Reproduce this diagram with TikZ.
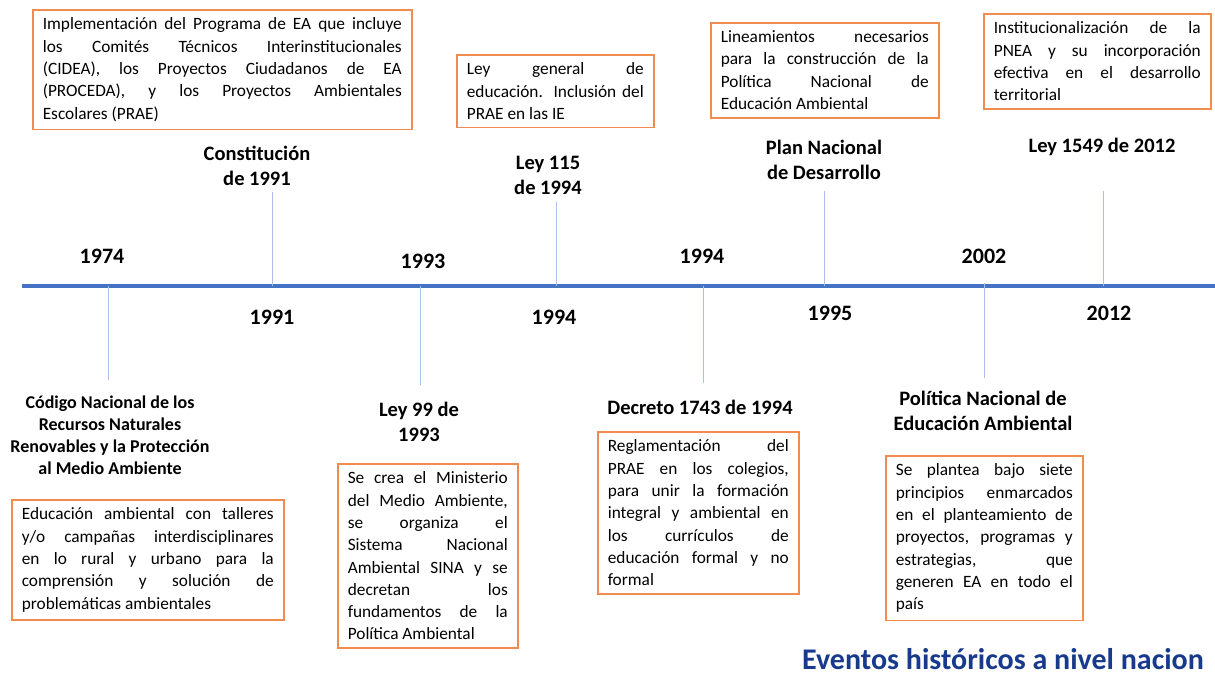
\documentclass[tikz,border=0pt]{standalone}
\usepackage{fontspec}
\setmainfont{Carlito}
\usetikzlibrary{positioning}

\definecolor{ejeazul}{RGB}{68,114,196}
\definecolor{marcaazul}{RGB}{170,192,230}
\definecolor{bordenaranja}{RGB}{240,140,80}
\definecolor{tituloazul}{RGB}{24,58,140}

\begin{document}
\hyphenpenalty=10000
\exhyphenpenalty=10000
\tolerance=10000
\begin{tikzpicture}[x=1pt,y=-1pt,
	caja/.style={draw=bordenaranja,line width=1.6pt,anchor=north west,align=justify,
		inner xsep=10pt,inner ysep=8pt,font=\fontsize{17.3}{22.3}\selectfont},
	hito/.style={align=center,font=\bfseries\fontsize{20.5}{25}\selectfont},
	anio/.style={font=\bfseries\fontsize{22}{26}\selectfont},
	marca/.style={draw=marcaazul,line width=1pt},
	eje/.style={draw=ejeazul,line width=4pt}]
	\useasboundingbox (0,0) rectangle (1215,679);

	% eje del tiempo
	\coordinate	(ejeI)	at	(22,286);
	\coordinate	(ejeD)	at	(1215,286);
	\draw[eje]	(ejeI) -- (ejeD);

	% marcas
	\coordinate	(m1974)	at	(108,286);	\coordinate	(f1974)	at	(108,380);
	\coordinate	(m1991)	at	(272,286);	\coordinate	(f1991)	at	(272,192);
	\coordinate	(m1993)	at	(420,286);	\coordinate	(f1993)	at	(420,385);
	\coordinate	(m1994a)	at	(556,286);	\coordinate	(f1994a)	at	(556,202);
	\coordinate	(m1994b)	at	(703,286);	\coordinate	(f1994b)	at	(703,383);
	\coordinate	(m1995)	at	(824,286);	\coordinate	(f1995)	at	(824,191);
	\coordinate	(m2002)	at	(984,283);	\coordinate	(f2002)	at	(984,378);
	\coordinate	(m2012)	at	(1103,286);	\coordinate	(f2012)	at	(1103,191);
	\draw[marca]	(m1974) -- (f1974);
	\draw[marca]	(m1991) -- (f1991);
	\draw[marca]	(m1993) -- (f1993);
	\draw[marca]	(m1994a) -- (f1994a);
	\draw[marca]	(m1994b) -- (f1994b);
	\draw[marca]	(m1995) -- (f1995);
	\draw[marca]	(m2002) -- (f2002);
	\draw[marca]	(m2012) -- (f2012);

	% anios
	\node[anio]	(a1974)	at	(102,256)	{1974};
	\node[anio]	(a1993)	at	(423,261)	{1993};
	\node[anio]	(a1994a)	at	(702,256)	{1994};
	\node[anio]	(a2002)	at	(984,256)	{2002};
	\node[anio]	(a1991)	at	(272,317)	{1991};
	\node[anio]	(a1994b)	at	(554,317)	{1994};
	\node[anio]	(a1995)	at	(830,313)	{1995};
	\node[anio]	(a2012)	at	(1109,313)	{2012};

	% hitos arriba
	\node[hito]	(hConst)	at	(257,166)	{Constitución\\de 1991};
	\node[hito]	(hLey115)	at	(548,175)	{Ley 115\\de 1994};
	\node[hito]	(hPlan)	at	(824,160)	{Plan Nacional\\de Desarrollo};
	\node[hito]	(hLey1549)	at	(1102,147)	{Ley 1549 de 2012};

	% hitos abajo
	\node[hito,font=\bfseries\fontsize{18}{22}\selectfont]	(hCodigo)	at	(110,435)
		{Código Nacional de los\\Recursos Naturales\\Renovables y la Protección\\al Medio Ambiente};
	\node[hito]	(hLey99)	at	(419,422)	{Ley 99 de\\1993};
	\node[hito]	(hDecreto)	at	(700,407)	{Decreto 1743 de 1994};
	\node[hito]	(hPolitica)	at	(983,411)	{Política Nacional de\\Educación Ambiental};

	% cajas
	\node[caja,text width=359pt]	(cPrograma)	at	(32,9)
		{Implementación del Programa de EA que incluye\linebreak
		los Comités Técnicos Interinstitucionales\linebreak
		(CIDEA), los Proyectos Ciudadanos de EA\linebreak
		(PROCEDA), y los Proyectos Ambientales\linebreak
		Escolares (PRAE)};
	\node[caja,text width=177pt]	(cLeyGeneral)	at	(456,54)
		{Ley general de\linebreak
		educación. Inclusión del\linebreak
		PRAE en las IE};
	\node[caja,text width=208pt]	(cLineamientos)	at	(710,22)
		{Lineamientos necesarios\linebreak
		para la construcción de la\linebreak
		Política Nacional de\linebreak
		Educación Ambiental};
	\node[caja,text width=207pt]	(cPNEA)	at	(983,13)
		{Institucionalización de la\linebreak
		PNEA y su incorporación\linebreak
		efectiva en el desarrollo\linebreak
		territorial};
	\node[caja,text width=252pt]	(cTalleres)	at	(11,499)
		{Educación ambiental con talleres\linebreak
		y/o campañas interdisciplinares\linebreak
		en lo rural y urbano para la\linebreak
		comprensión y solución de\linebreak
		problemáticas ambientales};
	\node[caja,text width=160pt]	(cMinisterio)	at	(337,463)
		{Se crea el Ministerio\linebreak
		del Medio Ambiente,\linebreak
		se organiza el\linebreak
		Sistema Nacional\linebreak
		Ambiental SINA y se\linebreak
		decretan los\linebreak
		fundamentos de la\linebreak
		Política Ambiental};
	\node[caja,text width=181pt]	(cReglamento)	at	(597,431)
		{Reglamentación del\linebreak
		PRAE en los colegios,\linebreak
		para unir la formación\linebreak
		integral y ambiental en\linebreak
		los currículos de\linebreak
		educación formal y no\linebreak
		formal};
	\node[caja,text width=177pt]	(cPrincipios)	at	(885,455)
		{Se plantea bajo siete\linebreak
		principios enmarcados\linebreak
		en el planteamiento de\linebreak
		proyectos, programas y\linebreak
		estrategias, que\linebreak
		generen EA en todo el\linebreak
		país};

	% titulo
	\node[anchor=base west,inner sep=0pt,text=tituloazul,font=\bfseries\fontsize{30}{36}\selectfont]	(titulo)	at	(802,669)
		{Eventos históricos a nivel nacion};
\end{tikzpicture}
\end{document}
